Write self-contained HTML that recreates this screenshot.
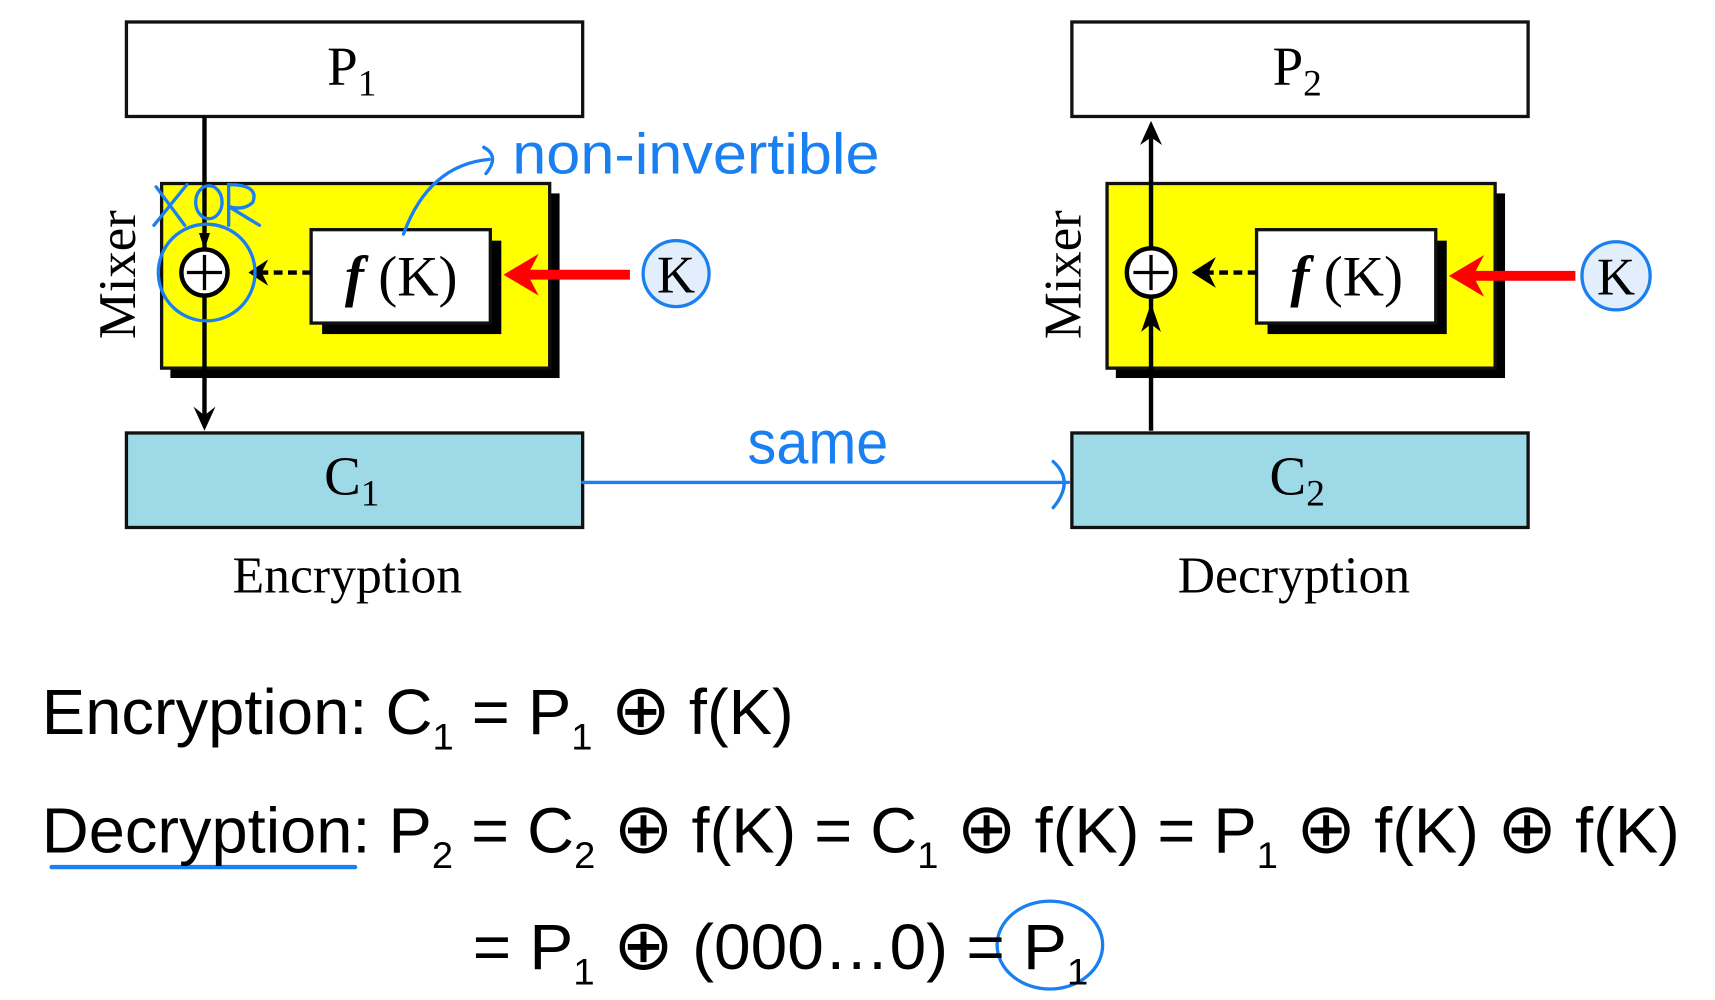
<!DOCTYPE html>
<html><head><meta charset="utf-8"><style>
html,body{margin:0;padding:0;background:#fff;}
svg{display:block;}
.serif{font-family:"Liberation Serif",serif;}
.sans{font-family:"Liberation Sans",sans-serif;}
</style></head><body>
<svg width="1715" height="1000" viewBox="0 0 1560 910" preserveAspectRatio="none" xmlns="http://www.w3.org/2000/svg">
<!-- ENCRYPTION -->
<rect x="115" y="20" width="415" height="86" fill="#fff" stroke="#111" stroke-width="3"/>
<text x="320" y="77" class="serif" font-size="50" text-anchor="middle">P<tspan font-size="34" dy="10">1</tspan></text>
<rect x="155" y="176" width="354" height="168" fill="#000"/>
<rect x="147" y="167" width="353" height="168" fill="#ff0" stroke="#111" stroke-width="3"/>
<text transform="translate(123,250) rotate(-90)" class="serif" font-size="48" text-anchor="middle">Mixer</text>
<rect x="293" y="219" width="163" height="85" fill="#000"/>
<rect x="283" y="209" width="163" height="85" fill="#fff" stroke="#111" stroke-width="3"/>
<text x="365" y="269" class="serif" font-size="52" text-anchor="middle"><tspan font-style="italic" font-weight="bold">f</tspan> (K)</text>
<line x1="186" y1="106" x2="186" y2="385" stroke="#000" stroke-width="4"/>
<path d="M176,370 L186,392 L196,370 L186,378 z" fill="#000"/>
<path d="M181,212 L186,227 L191,212 z" fill="#000"/>
<circle cx="186" cy="248" r="21" fill="#fff" stroke="#000" stroke-width="4"/>
<line x1="170" y1="248" x2="202" y2="248" stroke="#000" stroke-width="3"/>
<line x1="186" y1="232" x2="186" y2="264" stroke="#000" stroke-width="3"/>
<line x1="283" y1="248" x2="232" y2="248" stroke="#000" stroke-width="4" stroke-dasharray="8,5"/>
<path d="M244,236 L226,248 L244,260 L238,248 z" fill="#000"/>
<line x1="573" y1="250" x2="475" y2="250" stroke="#f00" stroke-width="9"/>
<path d="M490,231 L458,250 L490,269 L480,250 z" fill="#f00"/>
<circle cx="615" cy="249" r="30" fill="#e2eefc" stroke="#1a7ff0" stroke-width="3"/>
<text x="615" y="266" class="serif" font-size="48" text-anchor="middle">K</text>
<rect x="115" y="394" width="415" height="86" fill="#9dd9e6" stroke="#111" stroke-width="3"/>
<text x="320" y="450" class="serif" font-size="50" text-anchor="middle">C<tspan font-size="34" dy="10">1</tspan></text>
<text x="316" y="539" class="serif" font-size="47" text-anchor="middle">Encryption</text>
<!-- DECRYPTION -->
<rect x="975" y="20" width="415" height="86" fill="#fff" stroke="#111" stroke-width="3"/>
<text x="1180" y="77" class="serif" font-size="50" text-anchor="middle">P<tspan font-size="34" dy="10">2</tspan></text>
<rect x="1015" y="176" width="354" height="168" fill="#000"/>
<rect x="1007" y="167" width="353" height="168" fill="#ff0" stroke="#111" stroke-width="3"/>
<text transform="translate(983,250) rotate(-90)" class="serif" font-size="48" text-anchor="middle">Mixer</text>
<rect x="1153" y="219" width="163" height="85" fill="#000"/>
<rect x="1143" y="209" width="163" height="85" fill="#fff" stroke="#111" stroke-width="3"/>
<text x="1225" y="269" class="serif" font-size="52" text-anchor="middle"><tspan font-style="italic" font-weight="bold">f</tspan> (K)</text>
<line x1="1047" y1="392" x2="1047" y2="118" stroke="#000" stroke-width="4"/>
<path d="M1037,132 L1047,110 L1057,132 L1047,125 z" fill="#000"/>
<path d="M1038,302 L1047,276 L1056,302 L1047,295 z" fill="#000"/>
<circle cx="1047" cy="248" r="22" fill="#fff" stroke="#000" stroke-width="4"/>
<line x1="1031" y1="248" x2="1063" y2="248" stroke="#000" stroke-width="3"/>
<line x1="1047" y1="232" x2="1047" y2="264" stroke="#000" stroke-width="3"/>
<line x1="1143" y1="248" x2="1092" y2="248" stroke="#000" stroke-width="4" stroke-dasharray="8,5"/>
<path d="M1106,234 L1084,248 L1106,262 L1099,248 z" fill="#000"/>
<line x1="1433" y1="251" x2="1335" y2="251" stroke="#f00" stroke-width="9"/>
<path d="M1350,232 L1318,251 L1350,270 L1340,251 z" fill="#f00"/>
<circle cx="1470" cy="251" r="31" fill="#e2eefc" stroke="#1a7ff0" stroke-width="3"/>
<text x="1470" y="268" class="serif" font-size="48" text-anchor="middle">K</text>
<rect x="975" y="394" width="415" height="86" fill="#9dd9e6" stroke="#111" stroke-width="3"/>
<text x="1180" y="450" class="serif" font-size="50" text-anchor="middle">C<tspan font-size="34" dy="10">2</tspan></text>
<text x="1177" y="539" class="serif" font-size="47" text-anchor="middle">Decryption</text>
<!-- blue annotations -->
<g stroke="#1a7ff0" fill="none" stroke-width="3" stroke-linecap="round">
<line x1="530" y1="439" x2="972" y2="439"/>
<path d="M958,420 Q978,438 958,462"/>
<ellipse cx="188" cy="248" rx="44" ry="44"/>
<path d="M367,213 Q390,150 445,145"/>
<path d="M440,134 Q455,142 442,158"/>
<path d="M142,170 L168,205 M170,168 L140,205"/>
<ellipse cx="190" cy="184" rx="12" ry="15"/>
<path d="M208,205 L208,168 Q236,168 230,184 Q222,192 208,188 L236,205"/>
<ellipse cx="955" cy="860" rx="48" ry="40"/>
<line x1="47" y1="789" x2="323" y2="789" stroke-width="4"/>
</g>
<text x="466" y="158" class="sans" font-size="52" fill="#1a7ff0" textLength="334" lengthAdjust="spacingAndGlyphs">non-invertible</text>
<text x="680" y="422" class="sans" font-size="56" fill="#1a7ff0" textLength="128" lengthAdjust="spacingAndGlyphs">same</text>
<!-- equations -->
<text x="38" y="668" class="sans" font-size="58" textLength="684" lengthAdjust="spacingAndGlyphs">Encryption: C<tspan font-size="34" dy="14">1</tspan><tspan dy="-14"> = P</tspan><tspan font-size="34" dy="14">1</tspan><tspan dy="-14"> <tspan font-size="64">⊕</tspan> f(K)</tspan></text>
<text x="38" y="776" class="sans" font-size="58" textLength="1490" lengthAdjust="spacingAndGlyphs">Decryption: P<tspan font-size="34" dy="14">2</tspan><tspan dy="-14"> = C</tspan><tspan font-size="34" dy="14">2</tspan><tspan dy="-14"> <tspan font-size="64">⊕</tspan> f(K) = C</tspan><tspan font-size="34" dy="14">1</tspan><tspan dy="-14"> <tspan font-size="64">⊕</tspan> f(K) = P</tspan><tspan font-size="34" dy="14">1</tspan><tspan dy="-14"> <tspan font-size="64">⊕</tspan> f(K) <tspan font-size="64">⊕</tspan> f(K)</tspan></text>
<text x="430" y="882" class="sans" font-size="58" textLength="560" lengthAdjust="spacingAndGlyphs">= P<tspan font-size="34" dy="14">1</tspan><tspan dy="-14"> <tspan font-size="64">⊕</tspan> (000…0) = P</tspan><tspan font-size="34" dy="14">1</tspan></text>
</svg>
</body></html>
